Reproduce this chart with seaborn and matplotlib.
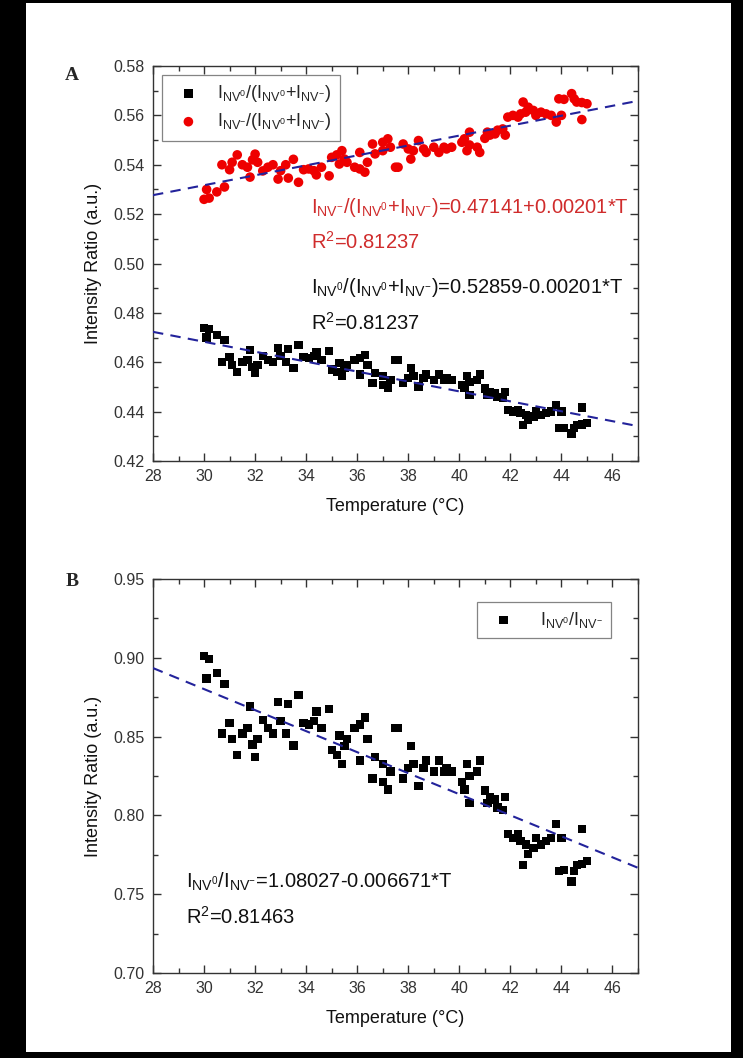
import numpy as np
import pandas as pd
import matplotlib
matplotlib.use("Agg")
import matplotlib.pyplot as plt
from matplotlib.patches import Rectangle
from matplotlib.ticker import MultipleLocator
import seaborn as sns

# --- data ---
temp = [30.0, 30.2, 30.1, 30.5, 30.8, 30.7, 31.0, 31.1, 31.3, 31.5,
        31.8, 31.7, 31.9, 32.0, 32.1, 32.3, 32.5, 32.7, 32.9, 33.0,
        33.2, 33.3, 33.5, 33.7, 33.9, 34.1, 34.3, 34.4, 34.6, 34.9,
        35.0, 35.2, 35.4, 35.3, 35.5, 35.6, 35.9, 36.1, 36.1, 36.3,
        36.4, 36.6, 36.7, 37.0, 37.0, 37.2, 37.3, 37.5, 37.6, 37.8,
        38.0, 38.1, 38.2, 38.4, 38.6, 38.7, 39.0, 39.2, 39.4, 39.5,
        39.7, 40.1, 40.2, 40.3, 40.4, 40.4, 40.7, 40.8, 41.0, 41.1,
        41.2, 41.4, 41.5, 41.7, 41.8, 41.9, 42.1, 42.3, 42.4, 42.5,
        42.6, 42.7, 42.9, 43.0, 43.2, 43.4, 43.6, 43.8, 44.0, 43.9,
        44.1, 44.4, 44.5, 44.6, 44.8, 44.8, 45.0]

ratio_nv0 = [0.4740, 0.4735, 0.4700, 0.4710, 0.4690, 0.4600, 0.4620, 0.4590, 0.4560, 0.4600,
             0.4650, 0.4610, 0.4580, 0.4557, 0.4590, 0.4625, 0.4610, 0.4600, 0.4658, 0.4624,
             0.4600, 0.4654, 0.4578, 0.4671, 0.4620, 0.4617, 0.4624, 0.4641, 0.4610, 0.4645,
             0.4570, 0.4560, 0.4543, 0.4597, 0.4577, 0.4590, 0.4610, 0.4550, 0.4617, 0.4630,
             0.4590, 0.4516, 0.4556, 0.4543, 0.4509, 0.4495, 0.4529, 0.4610, 0.4610, 0.4516,
             0.4536, 0.4577, 0.4543, 0.4502, 0.4536, 0.4550, 0.4529, 0.4550, 0.4529, 0.4536,
             0.4529, 0.4509, 0.4495, 0.4543, 0.4520, 0.4468, 0.4529, 0.4550, 0.4493, 0.4468,
             0.4480, 0.4475, 0.4460, 0.4455, 0.4480, 0.4407, 0.4400, 0.4407, 0.4394, 0.4346,
             0.4387, 0.4367, 0.4380, 0.4400, 0.4387, 0.4394, 0.4400, 0.4427, 0.4400, 0.4333,
             0.4335, 0.4312, 0.4333, 0.4346, 0.4417, 0.4348, 0.4353]

ratio_nvm = [0.5260, 0.5265, 0.5300, 0.5290, 0.5310, 0.5400, 0.5380, 0.5410, 0.5440, 0.5400,
             0.5350, 0.5390, 0.5420, 0.5443, 0.5410, 0.5375, 0.5390, 0.5400, 0.5342, 0.5376,
             0.5400, 0.5346, 0.5422, 0.5329, 0.5380, 0.5383, 0.5376, 0.5359, 0.5390, 0.5355,
             0.5430, 0.5440, 0.5457, 0.5403, 0.5423, 0.5410, 0.5390, 0.5450, 0.5383, 0.5370,
             0.5410, 0.5484, 0.5444, 0.5457, 0.5491, 0.5505, 0.5471, 0.5390, 0.5390, 0.5484,
             0.5464, 0.5423, 0.5457, 0.5498, 0.5464, 0.5450, 0.5471, 0.5450, 0.5471, 0.5464,
             0.5471, 0.5491, 0.5505, 0.5457, 0.5480, 0.5532, 0.5471, 0.5450, 0.5507, 0.5532,
             0.5520, 0.5525, 0.5540, 0.5545, 0.5520, 0.5593, 0.5600, 0.5593, 0.5606, 0.5654,
             0.5613, 0.5633, 0.5620, 0.5600, 0.5613, 0.5606, 0.5600, 0.5573, 0.5600, 0.5667,
             0.5665, 0.5688, 0.5667, 0.5654, 0.5583, 0.5652, 0.5647]

ratio_b = [0.9011, 0.8993, 0.8868, 0.8904, 0.8832, 0.8519, 0.8587, 0.8484, 0.8382, 0.8519,
           0.8692, 0.8553, 0.8450, 0.8372, 0.8484, 0.8605, 0.8553, 0.8519, 0.8720, 0.8601,
           0.8519, 0.8706, 0.8443, 0.8765, 0.8587, 0.8577, 0.8601, 0.8660, 0.8553, 0.8674,
           0.8416, 0.8382, 0.8325, 0.8508, 0.8440, 0.8484, 0.8553, 0.8349, 0.8577, 0.8622,
           0.8484, 0.8235, 0.8369, 0.8325, 0.8212, 0.8165, 0.8278, 0.8553, 0.8553, 0.8235,
           0.8302, 0.8440, 0.8325, 0.8188, 0.8302, 0.8349, 0.8278, 0.8349, 0.8278, 0.8302,
           0.8278, 0.8212, 0.8165, 0.8325, 0.8248, 0.8077, 0.8278, 0.8349, 0.8159, 0.8077,
           0.8116, 0.8100, 0.8051, 0.8034, 0.8116, 0.7880, 0.7857, 0.7880, 0.7838, 0.7687,
           0.7816, 0.7753, 0.7794, 0.7857, 0.7816, 0.7838, 0.7857, 0.7944, 0.7857, 0.7646,
           0.7652, 0.7581, 0.7646, 0.7687, 0.7912, 0.7693, 0.7709]

# linear fits printed on the chart
fit_nvm = (0.47141, 0.00201)
fit_nv0 = (0.52859, -0.00201)
fit_b = (1.08027, -0.006671)

lab_nv0 = r'$\mathregular{I_{NV^0}/(I_{NV^0}{+}I_{NV^{-}})}$'
lab_nvm = r'$\mathregular{I_{NV^{-}}/(I_{NV^0}{+}I_{NV^{-}})}$'
lab_b = r'$\mathregular{I_{NV^0}/I_{NV^{-}}}$'

df = pd.DataFrame({'T': temp, 'nv0': ratio_nv0, 'nvm': ratio_nvm, 'b': ratio_b})

sns.set_style("ticks")
plt.rcParams['font.family'] = ['Liberation Sans', 'DejaVu Sans']
plt.rcParams['mathtext.fontset'] = 'custom'
plt.rcParams['mathtext.rm'] = 'Liberation Sans'

fig = plt.figure(figsize=(7.43, 10.58), dpi=100, facecolor='black')
fig.patches.append(Rectangle((26 / 743, 6 / 1058), (731 - 26) / 743, (1055 - 6) / 1058,
                             transform=fig.transFigure, facecolor='white',
                             edgecolor='none', zorder=-10))

axA = fig.add_axes([153 / 743, 1 - 461 / 1058, 485 / 743, 395 / 1058])
axB = fig.add_axes([153 / 743, 1 - 973 / 1058, 485 / 743, 394 / 1058])

xlim = (28, 47)
xs = np.array(xlim, dtype=float)
blue = '#23239b'
red_text = '#d02c2c'
grey = '#333333'
fs_note = 14.5

# --- panel A ---
sns.scatterplot(data=df, x='T', y='nv0', ax=axA, marker='s', s=36, color='black',
                edgecolor='none', label=lab_nv0, zorder=3)
sns.scatterplot(data=df, x='T', y='nvm', ax=axA, marker='o', s=48, color='#ee0000',
                edgecolor='none', label=lab_nvm, zorder=3)
for a, b in (fit_nvm, fit_nv0):
    sns.lineplot(x=xs, y=a + b * xs, ax=axA, color=blue, lw=1.5,
                 dashes=(5, 3.5), legend=False, zorder=4)
axA.set_ylim(0.42, 0.58)
axA.yaxis.set_major_locator(MultipleLocator(0.02))
axA.yaxis.set_minor_locator(MultipleLocator(0.01))

axA.text(34.2, 0.5225, lab_nvm + '=0.47141+0.00201*T', color=red_text, fontsize=fs_note, va='center')
axA.text(34.2, 0.5087, r'$\mathregular{R^2}$=0.81237', color=red_text, fontsize=fs_note, va='center')
axA.text(34.2, 0.4901, lab_nv0 + '=0.52859-0.00201*T', color='#111111', fontsize=fs_note, va='center')
axA.text(34.2, 0.4759, r'$\mathregular{R^2}$=0.81237', color='#111111', fontsize=fs_note, va='center')

legA = axA.legend(loc='upper left', bbox_to_anchor=(0.019, 0.977), borderaxespad=0,
                  fontsize=13, frameon=True, fancybox=False, edgecolor='#666666',
                  handletextpad=0.6, borderpad=0.45, labelspacing=0.4)
legA.get_frame().set_linewidth(0.9)

# --- panel B ---
sns.scatterplot(data=df, x='T', y='b', ax=axB, marker='s', s=36, color='black',
                edgecolor='none', label=lab_b, zorder=3)
sns.lineplot(x=xs, y=fit_b[0] + fit_b[1] * xs, ax=axB, color=blue, lw=1.5,
             dashes=(5, 3.5), legend=False, zorder=4)
axB.set_ylim(0.70, 0.95)
axB.yaxis.set_major_locator(MultipleLocator(0.05))
axB.yaxis.set_minor_locator(MultipleLocator(0.025))
axB.text(29.3, 0.7577, lab_b + '=1.08027-0.006671*T', color='#111111', fontsize=fs_note, va='center')
axB.text(29.3, 0.7355, r'$\mathregular{R^2}$=0.81463', color='#111111', fontsize=fs_note, va='center')

legB = axB.legend(loc='upper right', bbox_to_anchor=(0.944, 0.942), borderaxespad=0,
                  fontsize=13, frameon=True, fancybox=False, edgecolor='#666666',
                  handletextpad=1.0, borderpad=0.45)
legB.get_frame().set_linewidth(0.9)

for ax in (axA, axB):
    ax.set_xlim(*xlim)
    ax.xaxis.set_major_locator(MultipleLocator(2))
    ax.xaxis.set_minor_locator(MultipleLocator(1))
    ax.set_xlabel('Temperature (°C)', fontsize=13, color='#111111', labelpad=10)
    ax.set_ylabel('Intensity Ratio (a.u.)', fontsize=13, color='#111111', labelpad=8)
    ax.tick_params(which='both', direction='in', top=True, right=True,
                   labelsize=11.5, labelcolor=grey, color=grey, width=1)
    ax.tick_params(which='major', length=6, pad=6)
    ax.tick_params(which='minor', length=3.5)
    for sp in ax.spines.values():
        sp.set_color(grey)
        sp.set_linewidth(1)
    ax.set_facecolor('white')

fig.text(72 / 743, 1 - 75 / 1058, 'A', fontsize=14, fontweight='bold',
         family='Liberation Serif', ha='center', va='center')
fig.text(72 / 743, 1 - 582 / 1058, 'B', fontsize=14, fontweight='bold',
         family='Liberation Serif', ha='center', va='center')

fig.savefig('out.png', dpi=100, facecolor=fig.get_facecolor())
